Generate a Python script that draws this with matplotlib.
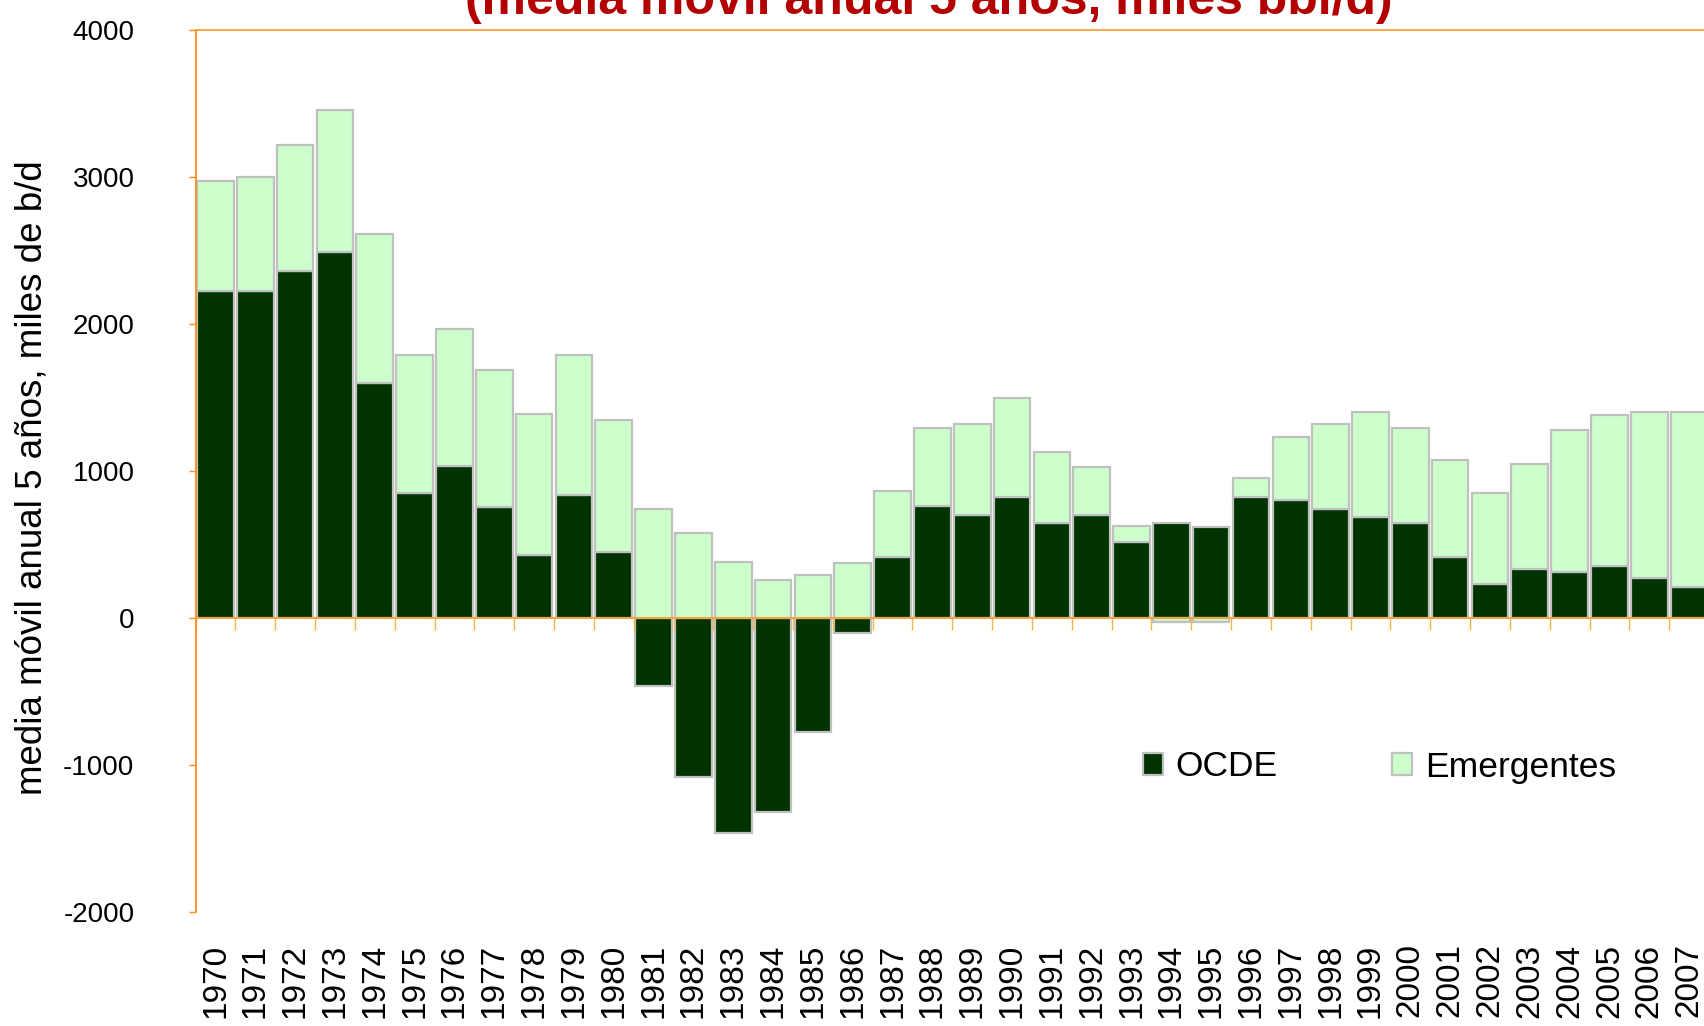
import numpy as np
import matplotlib
matplotlib.use("Agg")
import matplotlib.pyplot as plt
from matplotlib.patches import Patch
import matplotlib.transforms as mtransforms

plt.rcParams['font.family'] = ['Liberation Sans', 'DejaVu Sans']

# Data (miles de b/d)
years = [str(y) for y in range(1970, 2008)]
ocde = [2225, 2225, 2365, 2490, 1600, 850, 1035, 755, 430, 835, 450,
        -465, -1080, -1465, -1320, -775, -100, 415, 765, 700, 825, 645,
        700, 520, 645, 620, 825, 805, 745, 685, 645, 415, 230, 335, 315,
        355, 270, 210]
emergentes = [750, 775, 855, 970, 1015, 940, 935, 935, 955, 955, 895,
              745, 580, 380, 260, 295, 375, 450, 530, 620, 670, 485,
              330, 105, -30, -25, 125, 430, 575, 715, 650, 660, 620, 715,
              965, 1025, 1130, 1190]
yticks = [-2000, -1000, 0, 1000, 2000, 3000, 4000]

title = "(media móvil anual 5 años, miles bbl/d)"
ylabel = "media móvil anual 5 años, miles de b/d"

W, H = 1704, 1026
fig = plt.figure(figsize=(W / 100, H / 100), dpi=100)
ax = fig.add_axes([195.6 / W, 1 - 911.7 / H, (1709 - 195.6) / W, (911.7 - 30.4) / H])

x = np.arange(len(years))
o = np.array(ocde)
e = np.array(emergentes)
# excel-style stacking: positives stack on positives, negatives on negatives
same_sign = ((o >= 0) & (e >= 0)) | ((o < 0) & (e < 0))
bottom_e = np.where(same_sign, o, 0)

edge = '#C0C0C0'
ax.bar(x, o, width=0.92, color='#003300', edgecolor=edge, linewidth=1.6, zorder=1)
ax.bar(x, e, bottom=bottom_e, width=0.92, color='#CCFFCC', edgecolor=edge, linewidth=1.6, zorder=1)

ax.set_xlim(-0.5, len(years) - 0.5)
ax.set_ylim(-2000, 4000)
ax.set_yticks(yticks)
ax.set_yticklabels([str(v) for v in yticks], fontsize=20)
ax.tick_params(axis='y', direction='out', length=5, width=1, color='#FF8C1A', pad=39)

# category boundary ticks on the zero line
ax.set_xticks(np.arange(len(years) + 1) - 0.5)
ax.set_xticklabels([])
ax.tick_params(axis='x', direction='out', length=8.5, width=1, color='#FFB347')

ax.spines['bottom'].set_position(('data', 0))
ax.spines['bottom'].set_color('#FFA333')
ax.spines['bottom'].set_linewidth(1.3)
ax.spines['left'].set_color('#FF8C1A')
ax.spines['left'].set_linewidth(1.3)
ax.spines['top'].set_color('#FFA333')
ax.spines['top'].set_linewidth(1.3)
ax.spines['right'].set_visible(False)

# year labels below the plot
trans = mtransforms.blended_transform_factory(ax.transData, ax.transAxes)
for xi, yr in zip(x, years):
    ax.text(xi, -0.036, yr, transform=trans, rotation=90, ha='center', va='top',
            fontsize=24, clip_on=False)

fig.text(32 / W, 1 - 478 / H, ylabel, rotation=90, ha='center', va='center', fontsize=26.5)
fig.text(929 / W, 1 - 14 / H, title, ha='center', va='baseline', fontsize=36,
         fontweight='bold', color='#B30000')

handles = [Patch(facecolor='#003300', edgecolor=edge, linewidth=1.6, label='OCDE'),
           Patch(facecolor='#CCFFCC', edgecolor=edge, linewidth=1.6, label='Emergentes')]
fig.legend(handles=handles, loc='center left', bbox_to_anchor=(1143 / W, 1 - 767 / H),
           ncol=2, frameon=False, fontsize=25.5, handlelength=0.56, handleheight=0.56,
           handletextpad=0.35, columnspacing=3.25, borderpad=0, borderaxespad=0)

fig.savefig('out.png', dpi=100)
